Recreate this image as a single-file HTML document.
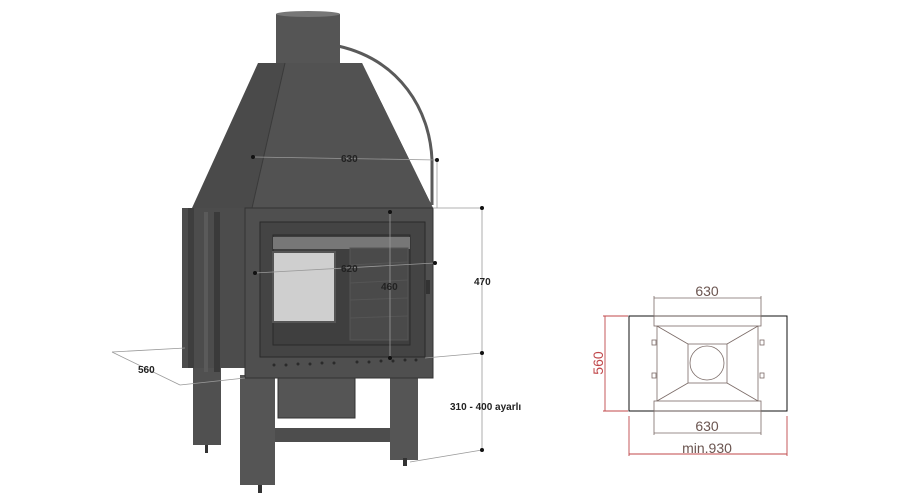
<!DOCTYPE html>
<html><head><style>
html,body{margin:0;padding:0;background:#fff;}
svg{display:block;font-family:"Liberation Sans",sans-serif;}
</style></head><body>
<svg width="899" height="500" viewBox="0 0 899 500" xmlns="http://www.w3.org/2000/svg">
<!-- pipe arc -->
<path d="M338,46 C400,60 430,110 432,160 L432,205" fill="none" stroke="#5a5a5a" stroke-width="3"/>
<!-- chimney -->
<rect x="276" y="14" width="64" height="50" fill="#555"/>
<ellipse cx="308" cy="14" rx="32" ry="3" fill="#777"/>
<!-- hood -->
<polygon points="258,63 362,63 433,208 192,208" fill="#4a4a4a"/>
<polygon points="285,63 362,63 433,208 252,208" fill="#525252"/>
<line x1="285" y1="63" x2="252" y2="208" stroke="#3a3a3a"/>
<!-- back left leg -->
<rect x="193" y="360" width="28" height="85" fill="#505050"/>
<rect x="205" y="445" width="3" height="8" fill="#333"/>
<!-- side panels -->
<rect x="182" y="208" width="64" height="160" fill="#4c4c4c"/>
<rect x="188" y="208" width="6" height="160" fill="#3e3e3e"/>
<rect x="204" y="212" width="4" height="160" fill="#5a5a5a"/>
<rect x="214" y="212" width="6" height="160" fill="#3a3a3a"/>
<!-- ash box and cross -->
<rect x="278" y="375" width="77" height="43" fill="#555" stroke="#333"/>
<rect x="275" y="428" width="118" height="14" fill="#4d4d4d"/>
<!-- front legs -->
<rect x="240" y="375" width="35" height="110" fill="#555"/>
<rect x="258" y="485" width="4" height="8" fill="#333"/>
<rect x="390" y="375" width="28" height="85" fill="#555"/>
<rect x="403" y="458" width="4" height="8" fill="#333"/>
<!-- front face -->
<rect x="245" y="208" width="188" height="170" fill="#4f4f4f" stroke="#333"/>
<rect x="260" y="222" width="165" height="135" fill="#444" stroke="#2a2a2a"/>
<rect x="273" y="235" width="137" height="110" fill="#3f3f3f" stroke="#2a2a2a"/>
<rect x="273" y="237" width="137" height="12" fill="#777"/>
<rect x="273" y="252" width="62" height="70" fill="#cfcfcf" stroke="#555" stroke-width="2"/>
<g stroke="#555" stroke-width="1">
<rect x="350" y="248" width="58" height="92" fill="#4a4a4a"/>
<line x1="350" y1="265" x2="408" y2="262"/><line x1="350" y1="283" x2="408" y2="280"/>
<line x1="350" y1="300" x2="408" y2="298"/><line x1="350" y1="318" x2="408" y2="316"/>
</g>
<g fill="#2a2a2a">
<circle cx="274" cy="365" r="1.5"/><circle cx="286" cy="365" r="1.5"/><circle cx="298" cy="364" r="1.5"/><circle cx="310" cy="364" r="1.5"/><circle cx="322" cy="363" r="1.5"/><circle cx="334" cy="363" r="1.5"/><circle cx="357" cy="362" r="1.5"/><circle cx="369" cy="362" r="1.5"/><circle cx="381" cy="361" r="1.5"/><circle cx="393" cy="361" r="1.5"/><circle cx="405" cy="360" r="1.5"/><circle cx="416" cy="360" r="1.5"/>
</g>
<rect x="426" y="280" width="4" height="14" fill="#333"/>
<!-- dimension lines -->
<g stroke="#999" stroke-width="0.8" fill="none">
<line x1="253" y1="157" x2="437" y2="160"/>
<line x1="437" y1="160" x2="437" y2="208"/>
<line x1="255" y1="273" x2="435" y2="263"/>
<line x1="390" y1="212" x2="390" y2="358"/>
<line x1="433" y1="208" x2="482" y2="208"/>
<line x1="482" y1="208" x2="482" y2="450"/>
<line x1="425" y1="358" x2="482" y2="353"/>
<line x1="410" y1="462" x2="482" y2="450"/>
<line x1="112" y1="352" x2="185" y2="348"/>
<line x1="112" y1="352" x2="180" y2="385"/>
<line x1="180" y1="385" x2="245" y2="378"/>
</g>
<g fill="#111">
<circle cx="253" cy="157" r="2"/><circle cx="437" cy="160" r="2"/><circle cx="255" cy="273" r="2"/><circle cx="435" cy="263" r="2"/>
<circle cx="390" cy="212" r="2"/><circle cx="390" cy="358" r="2"/><circle cx="482" cy="208" r="2"/><circle cx="482" cy="353" r="2"/><circle cx="482" cy="450" r="2"/>
</g>
<g font-size="10" font-weight="bold" fill="#222">
<text x="341" y="162">630</text>
<text x="341" y="272">620</text>
<text x="381" y="290">460</text>
<text x="474" y="285">470</text>
<text x="138" y="373">560</text>
<text x="450" y="410">310 - 400 ayarlı</text>
</g>
<!-- plan view -->
<rect x="629" y="316" width="158" height="95" fill="#fff" stroke="#111" stroke-width="1"/>
<g stroke="#7a6a66" fill="none" stroke-width="0.8">
<rect x="654" y="316" width="107" height="10"/>
<rect x="654" y="401" width="107" height="10"/>
<line x1="657" y1="326" x2="657" y2="401"/><line x1="758" y1="326" x2="758" y2="401"/>
<rect x="688" y="344" width="39" height="39"/>
<circle cx="707" cy="363" r="17"/>
<line x1="657" y1="326" x2="688" y2="344"/><line x1="758" y1="326" x2="727" y2="344"/>
<line x1="657" y1="401" x2="688" y2="383"/><line x1="758" y1="401" x2="727" y2="383"/>
<rect x="652" y="340" width="4" height="5"/><rect x="652" y="373" width="4" height="5"/>
<rect x="760" y="340" width="4" height="5"/><rect x="760" y="373" width="4" height="5"/>
<line x1="654" y1="298" x2="761" y2="298"/><line x1="654" y1="296" x2="654" y2="316"/><line x1="761" y1="296" x2="761" y2="316"/>
<line x1="654" y1="433" x2="761" y2="433"/><line x1="654" y1="411" x2="654" y2="435"/><line x1="761" y1="411" x2="761" y2="435"/>
</g>
<g stroke="#c0474a" stroke-width="0.9">
<line x1="605" y1="316" x2="605" y2="411"/><line x1="603" y1="316" x2="628" y2="316"/><line x1="603" y1="411" x2="628" y2="411"/>
<line x1="629" y1="454" x2="787" y2="454"/><line x1="629" y1="416" x2="629" y2="456"/><line x1="787" y1="416" x2="787" y2="456"/>
</g>
<g font-size="14" fill="#6b5550">
<text x="707" y="296" text-anchor="middle">630</text>
<text x="707" y="431" text-anchor="middle">630</text>
<text x="707" y="453" text-anchor="middle">min.930</text>
</g>
<text x="603" y="363" font-size="14" fill="#c0474a" text-anchor="middle" transform="rotate(-90 603 363)">560</text>
</svg>
</body></html>
